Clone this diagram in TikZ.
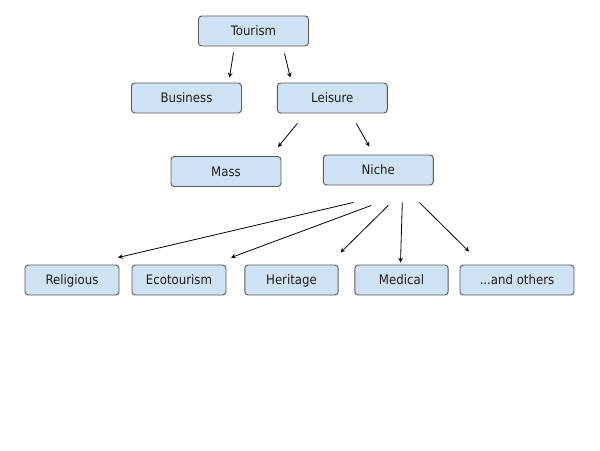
\documentclass[tikz,border=0pt]{standalone}
\usepackage{fontspec}
\setmainfont{DejaVu Sans Condensed}
\usepackage{tikz}
\usetikzlibrary{arrows,shapes,positioning}
\usepackage{xcolor}
\definecolor{tmfill}{RGB}{207,226,243}
\definecolor{tmline}{RGB}{89,89,89}
\definecolor{tmtext}{RGB}{30,30,30}
\tikzstyle{category} = [rectangle, rounded corners=2.5pt, minimum width=82.5pt, minimum height=22.5pt, inner sep=0pt, text height=7.1pt, text depth=0.1pt, text centered, draw=tmline, fill=tmfill, text=tmtext, line width=0.7pt, font=\fontsize{9.8}{12}\selectfont]
\tikzstyle{arrow} = [line width=0.6pt,->,>=stealth,color=black]

\begin{document}
\begin{tikzpicture}[x=0.75pt, y=-0.75pt]
\useasboundingbox (0,0) rectangle (600,450);
% Hierarchy
\node (tourism) [category] at (253.5,31) {Tourism};
\node (business) [category] at (186.5,98) {Business};
\node (leisure) [category] at (332.3,98) {Leisure};
\node (mass) [category] at (226,171.5) {Mass};
\node (niche) [category] at (378.3,170) {Niche};

% Niche types
\node (religious) [category, minimum width=70.5pt] at (72,280) {Religious};
\node (eco) [category, minimum width=70.5pt] at (179,280) {Ecotourism};
\node (heritage) [category, minimum width=70pt] at (291.5,280) {Heritage};
\node (medical) [category, minimum width=70pt] at (401.5,280) {Medical};
\node (others) [category, minimum width=85.5pt] at (517,280) {...and others};

\draw[arrow] ([shift={(-20,6)}]tourism.south) -- ([shift={(43,-5)}]business.north);
\draw[arrow] ([shift={(31,7)}]tourism.south) -- ([shift={(-42,-5)}]leisure.north);
\draw[arrow] ([shift={(-35,10)}]leisure.south) -- ([shift={(52,-9)}]mass.north);
\draw[arrow] ([shift={(24,10)}]leisure.south) -- ([shift={(-9,-8)}]niche.north);

\draw[arrow] ([shift={(-25,17)}]niche.south) -- ([shift={(46,-7)}]religious.north);
\draw[arrow] ([shift={(-7,20)}]niche.south) -- ([shift={(52,-7)}]eco.north);
\draw[arrow] ([shift={(10,20)}]niche.south) -- ([shift={(49,-12)}]heritage.north);
\draw[arrow] ([shift={(24,17)}]niche.south) -- ([shift={(-1,-2)}]medical.north);
\draw[arrow] ([shift={(41,17)}]niche.south) -- ([shift={(-48,-13)}]others.north);
\end{tikzpicture}
\end{document}
